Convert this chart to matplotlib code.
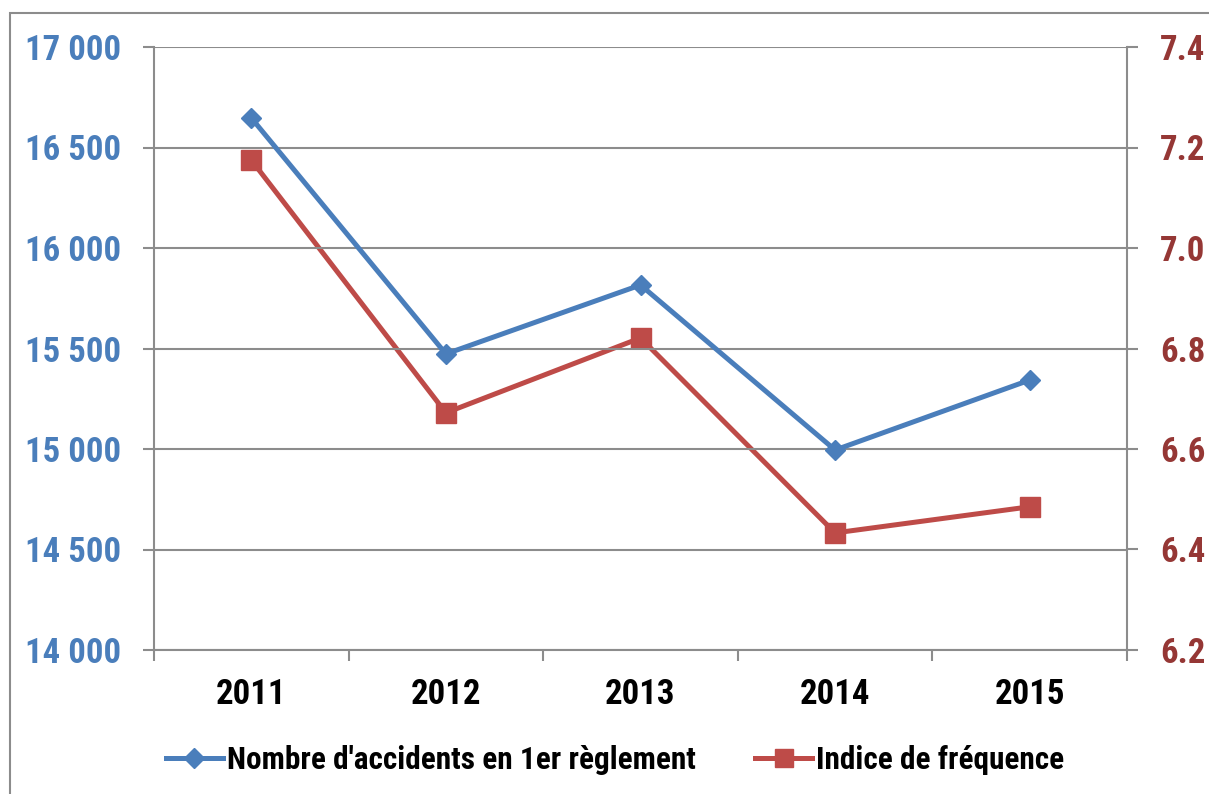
import matplotlib
matplotlib.use("Agg")
import matplotlib.pyplot as plt
from matplotlib.patches import Rectangle
from matplotlib.lines import Line2D

plt.rcParams['font.family'] = ['Roboto Condensed', 'DejaVu Sans']

years = ["2011", "2012", "2013", "2014", "2015"]
accidents = [16647, 15473, 15816, 14995, 15343]
frequence = [7.175, 6.672, 6.821, 6.433, 6.485]

left_ticks = [14000, 14500, 15000, 15500, 16000, 16500, 17000]
left_labels = ["14 000", "14 500", "15 000", "15 500", "16 000", "16 500", "17 000"]
right_ticks = [6.2, 6.4, 6.6, 6.8, 7.0, 7.2, 7.4]
right_labels = ["6.2", "6.4", "6.6", "6.8", "7.0", "7.2", "7.4"]

blue = "#4A7EBB"
red = "#BE4B48"
dark_red = "#953735"
grey = "#8C8C8C"

fig = plt.figure(figsize=(12.09, 7.94), dpi=100)
fig.patch.set_facecolor("white")
fig.patches.append(Rectangle((10 / 1209, -0.1), 1.2, 1 - 13 / 794 + 0.1,
                             transform=fig.transFigure, fill=False,
                             edgecolor="#8C8C8C", linewidth=1.5))

ax = fig.add_axes([154 / 1209, 1 - 650 / 794, (1127 - 154) / 1209, (650 - 47) / 794])
ax2 = ax.twinx()

x = list(range(1, len(years) + 1))

ax.set_xlim(0.5, len(years) + 0.5)
ax.set_ylim(14000, 17000)
ax2.set_ylim(6.2, 7.4)

ax.set_yticks(left_ticks)
ax.set_yticklabels(left_labels)
ax2.set_yticks(right_ticks)
ax2.set_yticklabels(right_labels)

ax.yaxis.grid(True, color=grey, linewidth=1.5)
ax.set_axisbelow(True)

# category labels sit between the boundary ticks
ax.set_xticks(x)
ax.set_xticklabels(years)
ax.set_xticks([i + 0.5 for i in range(0, len(years) + 1)], minor=True)
ax.tick_params(axis="x", which="major", length=0, pad=20, labelsize=25,
               labelcolor="black")
ax.tick_params(axis="x", which="minor", length=8, width=1.5, color=grey,
               direction="out")
for lbl in ax.get_xticklabels():
    lbl.set_fontweight("bold")

ax.tick_params(axis="y", length=8, width=1.5, color=grey, pad=16,
               labelsize=25, labelcolor=blue)
for lbl in ax.get_yticklabels():
    lbl.set_fontweight("bold")
ax2.tick_params(axis="y", length=8, width=1.5, color=grey, pad=16,
                labelsize=25, labelcolor=dark_red)
for lbl in ax2.get_yticklabels():
    lbl.set_fontweight("bold")

for a in (ax, ax2):
    a.spines["top"].set_visible(False)
    for s in ("left", "right", "bottom"):
        a.spines[s].set_color(grey)
        a.spines[s].set_linewidth(1.5)
ax.spines["right"].set_visible(False)
ax2.spines["bottom"].set_visible(False)
ax2.spines["left"].set_visible(False)

ax2.plot(x, frequence, color=red, linewidth=3.6, marker="s", markersize=14,
         markerfacecolor=red, markeredgecolor=red, zorder=3)
ax.plot(x, accidents, color=blue, linewidth=3.6, marker="D", markersize=10,
        markerfacecolor=blue, markeredgecolor=blue, zorder=3)
ax.set_zorder(ax2.get_zorder() + 1)
ax.patch.set_visible(False)

handles = [
    Line2D([], [], color=blue, linewidth=3.6, marker="D", markersize=10),
    Line2D([], [], color=red, linewidth=3.6, marker="s", markersize=13),
]
leg = fig.legend(handles, ["Nombre d'accidents en 1er règlement", "Indice de fréquence"],
                 loc="center", bbox_to_anchor=(0.509, 1 - 760 / 794), ncol=2,
                 frameon=False, handlelength=1.8, handletextpad=0.15,
                 columnspacing=1.9, prop={"weight": "bold", "size": 22.5})

fig.savefig("out.png", dpi=100, facecolor="white")
